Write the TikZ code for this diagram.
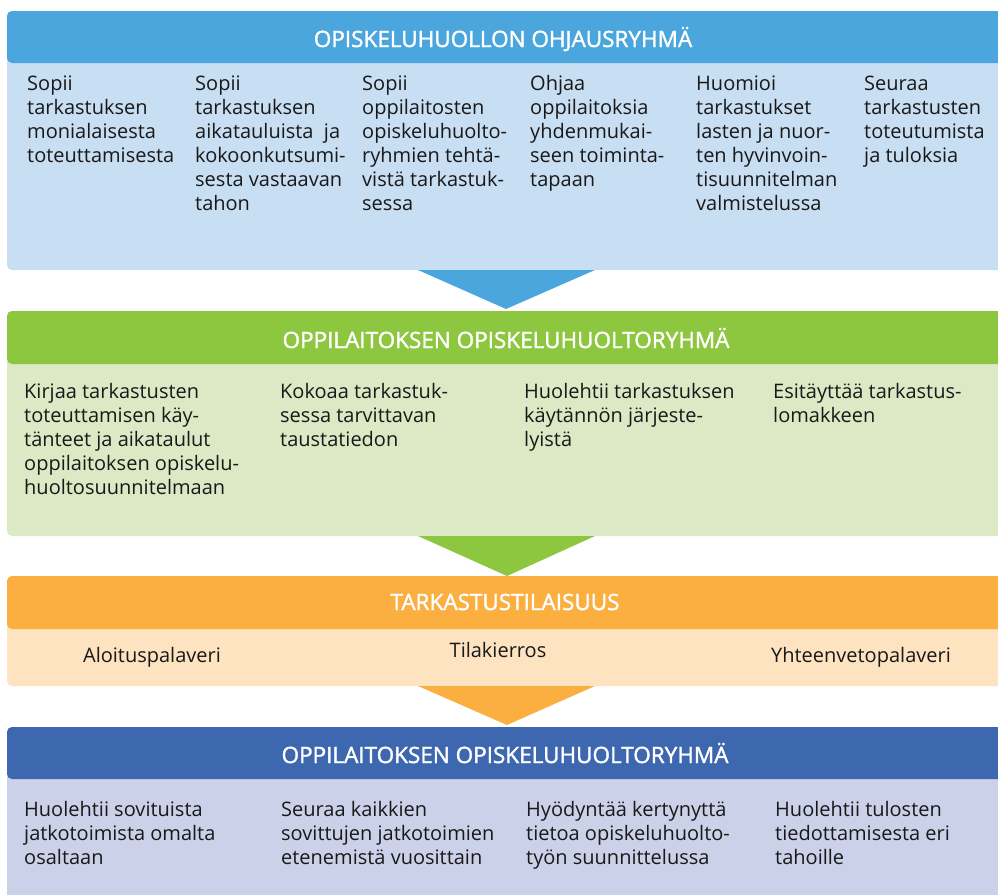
\documentclass[tikz,border=0pt]{standalone}
\usepackage{fontspec}
\setmainfont{Open Sans}
\newfontfamily\headfont[FakeBold=1.6]{Open Sans}
\usepackage{tikz}
\usepackage{xcolor}
\definecolor{skyhead}{HTML}{4AA6DD}
\definecolor{skybody}{HTML}{C8DEF2}
\definecolor{greenhead}{HTML}{8DC63F}
\definecolor{greenbody}{HTML}{DCE9C5}
\definecolor{orangehead}{HTML}{FBAF41}
\definecolor{orangebody}{HTML}{FDE3C0}
\definecolor{navyhead}{HTML}{3D68B0}
\definecolor{navybody}{HTML}{CBD1E9}

\begin{document}
\begin{tikzpicture}[x=1pt,y=-1pt,
        title/.style={anchor=base, inner sep=0pt, text=white, font=\headfont\fontsize{22.5}{26}\selectfont},
        item/.style={anchor=north west, align=left, inner sep=0pt, text=black!90,
            font=\fontsize{20}{24}\selectfont, execute at begin node=\strut},
        stage/.style={anchor=base, inner sep=0pt, text=black!90, font=\fontsize{20}{24}\selectfont}]
        \useasboundingbox (0,0) rectangle (998,894);

        % ohjausryhma
        \fill[skybody, rounded corners=5pt] (7,11) rectangle (1010,270);
        \fill[skyhead, rounded corners=5pt] (7,11) rectangle (1010,63);
        \fill[skyhead] (418,270) -- (595,270) -- (506,309) -- cycle;
        \node[title] (ohj) at (503,47) {OPISKELUHUOLLON OHJAUSRYHMÄ};
        \node[item] (ohj1) at (27,75.5) {Sopii\\tarkastuksen\\monialaisesta\\toteuttamisesta};
        \node[item] (ohj2) at (195,75.5) {Sopii\\tarkastuksen\\aikatauluista\ \ ja\\kokoonkutsumi-\\sesta vastaavan\\tahon};
        \node[item] (ohj3) at (362,75.5) {Sopii\\oppilaitosten\\opiskeluhuolto-\\ryhmien tehtä-\\vistä tarkastuk-\\sessa};
        \node[item] (ohj4) at (530,75.5) {Ohjaa\\oppilaitoksia\\yhdenmukai-\\seen toiminta-\\tapaan};
        \node[item] (ohj5) at (696,75.5) {Huomioi\\tarkastukset\\lasten ja nuor-\\ten hyvinvoin-\\tisuunnitelman\\valmistelussa};
        \node[item] (ohj6) at (864,75.5) {Seuraa\\tarkastusten\\toteutumista\\ja tuloksia};

        % oppilaitoksen ryhma, ennen
        \fill[greenbody, rounded corners=5pt] (7,311) rectangle (1010,536);
        \fill[greenhead, rounded corners=5pt] (7,311) rectangle (1010,364);
        \fill[greenhead] (418,536) -- (595,536) -- (507,576) -- cycle;
        \node[title] (opr) at (506,348) {OPPILAITOKSEN OPISKELUHUOLTORYHMÄ};
        \node[item] (opr1) at (24,383.5) {Kirjaa tarkastusten\\toteuttamisen käy-\\tänteet ja aikataulut\\oppilaitoksen opiskelu-\\huoltosuunnitelmaan};
        \node[item] (opr2) at (280,383.5) {Kokoaa tarkastuk-\\sessa tarvittavan\\taustatiedon};
        \node[item] (opr3) at (524,383.5) {Huolehtii tarkastuksen\\käytännön järjeste-\\lyistä};
        \node[item] (opr4) at (773,383.5) {Esitäyttää tarkastus-\\lomakkeen};

        % tilaisuus
        \fill[orangebody, rounded corners=5pt] (7,576) rectangle (1010,686);
        \fill[orangehead, rounded corners=5pt] (7,576) rectangle (1010,629);
        \fill[orangehead] (418,686) -- (595,686) -- (507,725) -- cycle;
        \node[title] (til) at (505,610) {TARKASTUSTILAISUUS};
        \node[stage] (til1) at (152,662) {Aloituspalaveri};
        \node[stage] (til2) at (498,657) {Tilakierros};
        \node[stage] (til3) at (861,662) {Yhteenvetopalaveri};

        % oppilaitoksen ryhma, jalkeen
        \fill[navybody, rounded corners=5pt] (7,727) rectangle (1010,905);
        \fill[navyhead, rounded corners=5pt] (7,727) rectangle (1010,779);
        \node[title] (jal) at (505,763) {OPPILAITOKSEN OPISKELUHUOLTORYHMÄ};
        \node[item] (jal1) at (24,801.5) {Huolehtii sovituista\\jatkotoimista omalta\\osaltaan};
        \node[item] (jal2) at (281,801.5) {Seuraa kaikkien\\sovittujen jatkotoimien\\etenemistä vuosittain};
        \node[item] (jal3) at (526,801.5) {Hyödyntää kertynyttä\\tietoa opiskeluhuolto-\\työn suunnittelussa};
        \node[item] (jal4) at (775,801.5) {Huolehtii tulosten\\tiedottamisesta eri\\tahoille};
    \end{tikzpicture}
\end{document}
